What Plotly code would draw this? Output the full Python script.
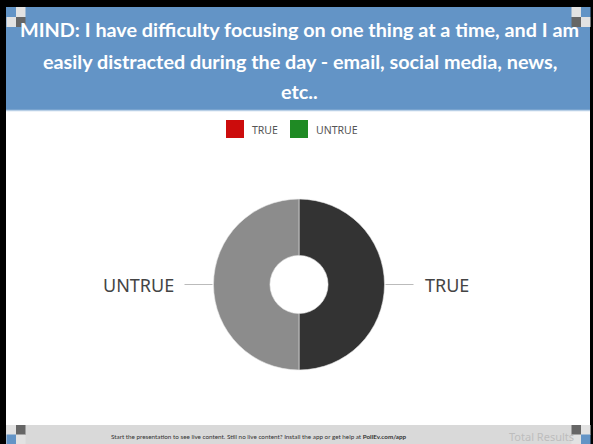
import math
import plotly.graph_objects as go

# Poll data
categories = ["TRUE", "UNTRUE"]
values = [50, 50]
slice_colors = ["#333333", "#8c8c8c"]
legend_colors = ["#cc0c0c", "#1f8a24"]

title_lines = [
    "MIND: I have difficulty focusing on one thing at a time, and I am",
    "easily distracted during the day - email, social media, news,",
    "etc..",
]
footer_text = ("Start the presentation to see live content. Still no live content? "
               "Install the app or get help at <b>PollEv.com/app</b>")

W, H = 593, 444


def px(x):
    return x / W


def py(y):
    return 1 - y / H


# pie geometry (pixels)
cx, cy, R = 299, 284.5, 85.5

fig = go.Figure()
fig.add_trace(go.Pie(
    labels=categories,
    values=values,
    sort=False,
    direction="clockwise",
    rotation=0,
    hole=0.34,
    marker=dict(colors=slice_colors, line=dict(color="#e8e8e8", width=0.6)),
    textinfo="none",
    hoverinfo="label+percent",
    showlegend=False,
    domain=dict(x=[px(cx - R), px(cx + R)], y=[py(cy + R), py(cy - R)]),
))

shapes = []
annotations = []

# white stage inside the black frame
shapes.append(dict(type="rect", xref="paper", yref="paper", layer="below",
                   x0=px(6), x1=px(590), y0=py(444), y1=py(7),
                   fillcolor="white", line=dict(width=0)))
# header band
shapes.append(dict(type="rect", xref="paper", yref="paper", layer="below",
                   x0=px(6), x1=px(590), y0=py(110), y1=py(7),
                   fillcolor="#6394c6", line=dict(width=0)))
shapes.append(dict(type="line", xref="paper", yref="paper", layer="below",
                   x0=px(6), x1=px(590), y0=py(110.5), y1=py(110.5),
                   line=dict(color="#b8cfe6", width=1.5)))
# footer band
shapes.append(dict(type="rect", xref="paper", yref="paper", layer="below",
                   x0=px(6), x1=px(590), y0=py(444), y1=py(425),
                   fillcolor="#d9d9d9", line=dict(width=0)))

# corner checker tiles
def tile(x0, y0, color):
    shapes.append(dict(type="rect", xref="paper", yref="paper", layer="above",
                       x0=px(x0), x1=px(x0 + 9.5), y0=py(y0 + 10), y1=py(y0),
                       fillcolor=color, line=dict(width=0)))

BL, LG, DK = "#6394c6", "#e2e2e2", "#666666"
tile(6.5, 7, BL); tile(16, 7, LG); tile(6.5, 17, LG); tile(16, 17, DK)
tile(571.5, 7, LG); tile(581, 7, BL); tile(571.5, 17, DK); tile(581, 17, LG)
tile(6.5, 425, LG); tile(16, 425, DK); tile(6.5, 434.5, BL); tile(16, 434.5, LG)
tile(571.5, 425, DK); tile(581, 425, LG); tile(571.5, 434.5, LG); tile(581, 434.5, BL)

# header title
for text, yy in zip(title_lines, [29, 61, 91]):
    annotations.append(dict(text=text, xref="paper", yref="paper", x=px(299.5), y=py(yy),
                            xanchor="center", yanchor="middle", showarrow=False,
                            font=dict(family="Lato", size=19.8, color="white", weight="bold")))

# custom legend
leg_x = [226, 290]
for cat, col, lx in zip(categories, legend_colors, leg_x):
    shapes.append(dict(type="rect", xref="paper", yref="paper",
                       x0=px(lx), x1=px(lx + 18), y0=py(138), y1=py(120),
                       fillcolor=col, line=dict(width=0)))
    annotations.append(dict(text=cat, xref="paper", yref="paper", x=px(lx + 24), y=py(129.5),
                            xanchor="left", yanchor="middle", showarrow=False,
                            font=dict(family="Noto Sans", size=10.5, color="#555555")))

# outside labels with leader lines at each slice's mid-angle
total = sum(values)
cum = 0
for cat, v in zip(categories, values):
    mid = (cum + v / 2) / total * 2 * math.pi
    cum += v
    dx, dy = math.sin(mid), -math.cos(mid)
    x1, y1 = cx + dx * (R + 1), cy + dy * (R + 1)
    x2, y2 = cx + dx * (R + 29), cy + dy * (R + 29)
    shapes.append(dict(type="line", xref="paper", yref="paper",
                       x0=px(x1), y0=py(y1), x1=px(x2), y1=py(y2),
                       line=dict(color="#bbbbbb", width=1)))
    lx = cx + dx * (R + 38)
    annotations.append(dict(text=cat, xref="paper", yref="paper", x=px(lx), y=py(y2),
                            xanchor="left" if dx > 0 else "right", yanchor="middle",
                            showarrow=False,
                            font=dict(family="Noto Sans", size=18, color="#444444")))

# footer texts
annotations.append(dict(text=footer_text, xref="paper", yref="paper", x=px(258.5), y=py(436),
                        xanchor="center", yanchor="middle", showarrow=False,
                        font=dict(family="Lato", size=6.3, color="#333333")))
annotations.append(dict(text="Total Results", xref="paper", yref="paper", x=px(507), y=py(436),
                        xanchor="left", yanchor="middle", showarrow=False,
                        font=dict(family="Noto Sans", size=11, color="#bdbdbd")))

fig.update_layout(
    width=W, height=H,
    margin=dict(l=0, r=0, t=0, b=0),
    paper_bgcolor="black",
    plot_bgcolor="white",
    shapes=shapes,
    annotations=annotations,
)

fig.write_html("out.html", config={"displayModeBar": False})
